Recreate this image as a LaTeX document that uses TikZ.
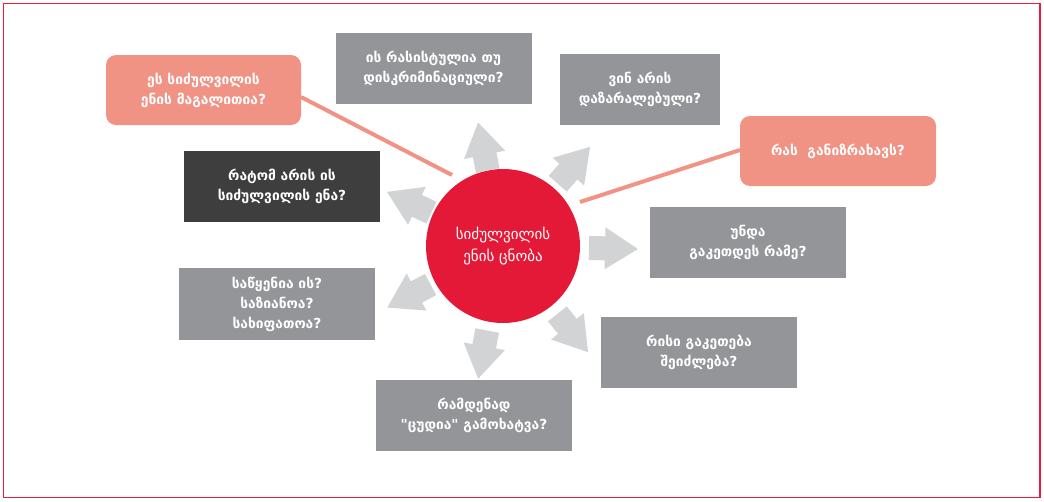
\documentclass[tikz,border=0pt]{standalone}
\usepackage{fontspec}
\setmainfont{DejaVu Sans}
\newfontfamily\geo{DejaVu Sans}
\definecolor{salmon}{RGB}{240,147,132}
\definecolor{boxgray}{RGB}{147,149,152}
\definecolor{darkbox}{RGB}{62,62,62}
\definecolor{hubred}{RGB}{227,25,55}
\definecolor{arrowgray}{RGB}{209,211,212}
\definecolor{framered}{RGB}{232,30,60}
\tikzset{
  qbox/.style={fill=boxgray, text=white, font=\geo\bfseries\fontsize{13.8}{20}\selectfont, align=center, inner sep=0pt, minimum width=196pt, minimum height=71pt},
  pinkbox/.style={qbox, fill=salmon, rounded corners=10pt},
  darkqbox/.style={qbox, fill=darkbox},
  hub/.style={circle, fill=hubred, text=white, minimum size=154pt, inner sep=0pt, align=center, font=\geo\fontsize{15}{22}\selectfont},
  link/.style={draw=salmon, line width=4pt},
}
\newcommand\blockarr[2]{%
  \fill[arrowgray, shift={(hub.center)}, rotate=#1]
    (#2-49,-12) -- (#2-33,-12) -- (#2-33,-21) -- (#2,0) -- (#2-33,21) -- (#2-33,12) -- (#2-49,12) -- cycle;}
\newcommand\hubtext{\iffontchar\font"1CA1 ᲡᲘᲫᲣᲚᲕᲘᲚᲘᲡ\\ ᲔᲜᲘᲡ ᲪᲜᲝᲑᲐ\else სიძულვილის\\ ენის ცნობა\fi}
\begin{document}
\begin{tikzpicture}[x=1pt,y=-1pt]
\useasboundingbox (0,0) rectangle (1044,501);
\draw[framered, line width=1.3pt] (3.5,3.5) rectangle (1040,497.5);
% coordinates of line ends
\coordinate (l1a) at (301,97);
\coordinate (l1b) at (452,175);
\coordinate (l2a) at (580,202);
\coordinate (l2b) at (740,150);
\draw[link] (l1a) -- (l1b);
\draw[link] (l2a) -- (l2b);
% boxes
\node[pinkbox, minimum width=195pt, minimum height=70pt] (b1) at (203.5,90) {ეს სიძულვილის\\ენის მაგალითია?};
\node[qbox, minimum width=196pt] (b2) at (433.5,68.5) {ის რასისტულია თუ\\დისკრიმინაციული?};
\node[qbox, minimum width=160pt] (b3) at (640,89.5) {ვინ არის\\დაზარალებული?};
\node[pinkbox, minimum height=70pt] (b4) at (838,151) {რას~~განიზრახავს?};
\node[darkqbox] (b5) at (282,186.5) {რატომ არის ის\\სიძულვილის ენა?};
\node[qbox] (b6) at (748,242.5) {უნდა\\გაკეთდეს რამე?};
\node[qbox, minimum height=72pt] (b7) at (277,304) {საწყენია ის?\\საზიანოა?\\სახიფათოა?};
\node[qbox] (b8) at (699,352.5) {რისი გაკეთება\\შეიძლება?};
\node[qbox] (b9) at (474,415.5) {რამდენად\\"ცუდია" გამოხატვა?};
% hub
\node[hub] (hub) at (503,246) {\hubtext};
% arrows
\blockarr{-100.6}{135}
\blockarr{-51.3}{136}
\blockarr{-1.3}{135}
\blockarr{48.7}{132}
\blockarr{101.4}{126}
\blockarr{155}{128}
\blockarr{-152}{131}
\end{tikzpicture}
\end{document}
